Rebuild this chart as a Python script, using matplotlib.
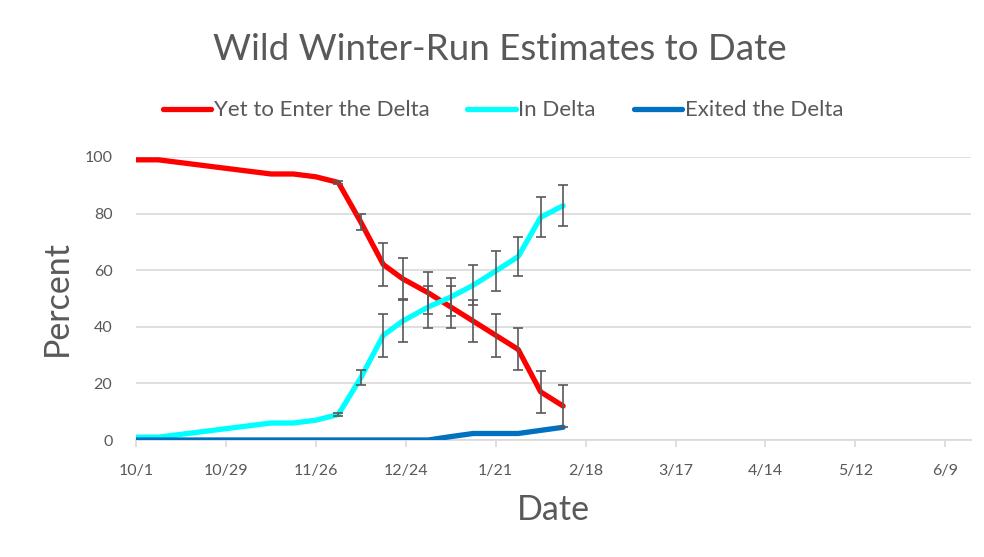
import datetime as dt
import numpy as np
import matplotlib
matplotlib.use("Agg")
import matplotlib.pyplot as plt
import matplotlib.dates as mdates
from matplotlib.ticker import FixedLocator, FuncFormatter

# --- data ---
dates = ["2023-10-01", "2023-10-08", "2023-10-15", "2023-10-22", "2023-10-29",
         "2023-11-05", "2023-11-12", "2023-11-19", "2023-11-26", "2023-12-03",
         "2023-12-10", "2023-12-17", "2023-12-23", "2023-12-31", "2024-01-07",
         "2024-01-14", "2024-01-21", "2024-01-28", "2024-02-04", "2024-02-11"]
yet_to_enter = [99, 99, 98, 97, 96, 95, 94, 94, 93, 91,
                77, 62, 57, 52, 47, 42, 37, 32, 17, 12]
in_delta = [1, 1, 2, 3, 4, 5, 6, 6, 7, 9,
            22, 37, 42, 47, 50.5, 54.7, 59.7, 64.8, 78.7, 82.8]
exited = [0, 0, 0, 0, 0, 0, 0, 0, 0, 0,
          0, 0, 0, 0, 1.2, 2.3, 2.3, 2.3, 3.4, 4.5]
err_yet = [0, 0, 0, 0, 0, 0, 0, 0, 0, 0.5,
           2.7, 7.5, 7.2, 7.5, 7.5, 7.3, 7.5, 7.4, 7.4, 7.4]
err_in = [0, 0, 0, 0, 0, 0, 0, 0, 0, 0.5,
          2.7, 7.5, 7.5, 7.5, 6.6, 7.0, 7.0, 7.0, 7.0, 7.2]

TEXT = "#595959"
GRID = "#D9D9D9"
plt.rcParams['font.family'] = ['Lato', 'DejaVu Sans']

x = np.array([np.datetime64(d) for d in dates]).astype("datetime64[D]").astype(dt.date)

fig = plt.figure(figsize=(9.84, 5.57), dpi=100)
ax = fig.add_axes([136/984, 1 - 440/557, (971 - 136)/984, (440 - 157)/557])

ax.plot(x, yet_to_enter, color="#FF0000", lw=3.8, label="Yet to Enter the Delta",
        solid_capstyle="round", zorder=3)
ax.plot(x, in_delta, color="#00FFFF", lw=3.8, label="In Delta",
        solid_capstyle="round", zorder=3)
ax.plot(x, exited, color="#0070C0", lw=3.8, label="Exited the Delta",
        solid_capstyle="round", zorder=3)

# error bars only where there is a spread
for vals, errs in [(yet_to_enter, err_yet), (in_delta, err_in)]:
    idx = [i for i, e in enumerate(errs) if e > 0]
    ax.errorbar([x[i] for i in idx], [vals[i] for i in idx],
                yerr=[errs[i] for i in idx], fmt="none", ecolor="#595959",
                elinewidth=1.2, capsize=3.6, capthick=1.2, zorder=4)

start = dt.date(2023, 10, 1)
ax.set_xlim(start, dt.date(2024, 6, 17))
ax.set_ylim(0, 100)
ticks = [start + dt.timedelta(days=28 * k) for k in range(10)]
ax.xaxis.set_major_locator(FixedLocator(mdates.date2num(ticks)))
ax.xaxis.set_major_formatter(FuncFormatter(
    lambda v, p: f"{mdates.num2date(v).month}/{mdates.num2date(v).day}"))
ax.set_yticks([0, 20, 40, 60, 80, 100])

ax.grid(axis="y", color=GRID, lw=1.2)
ax.set_axisbelow(True)
for s in ["top", "right", "left"]:
    ax.spines[s].set_visible(False)
ax.spines["bottom"].set_color(GRID)
ax.spines["bottom"].set_linewidth(1.2)
ax.tick_params(axis="x", colors=GRID, length=5, width=1.2, pad=12,
               labelcolor=TEXT, labelsize=11.5)
ax.tick_params(axis="y", length=0, pad=17, labelcolor=TEXT, labelsize=11.5)

ax.set_xlabel("Date", fontsize=24.5, color=TEXT, labelpad=12)
ax.set_ylabel("Percent", fontsize=24.5, color=TEXT, labelpad=8)

fig.text(0.508, 0.912, "Wild Winter-Run Estimates to Date", ha="center",
         va="center", fontsize=26.5, color=TEXT)
leg = fig.legend(loc="center", bbox_to_anchor=(0.511, 0.802), ncol=3,
                 frameon=False, fontsize=16, handlelength=2.2,
                 handletextpad=0.1, columnspacing=1.7)
for t in leg.get_texts():
    t.set_color(TEXT)

fig.savefig("out.png", dpi=100)
